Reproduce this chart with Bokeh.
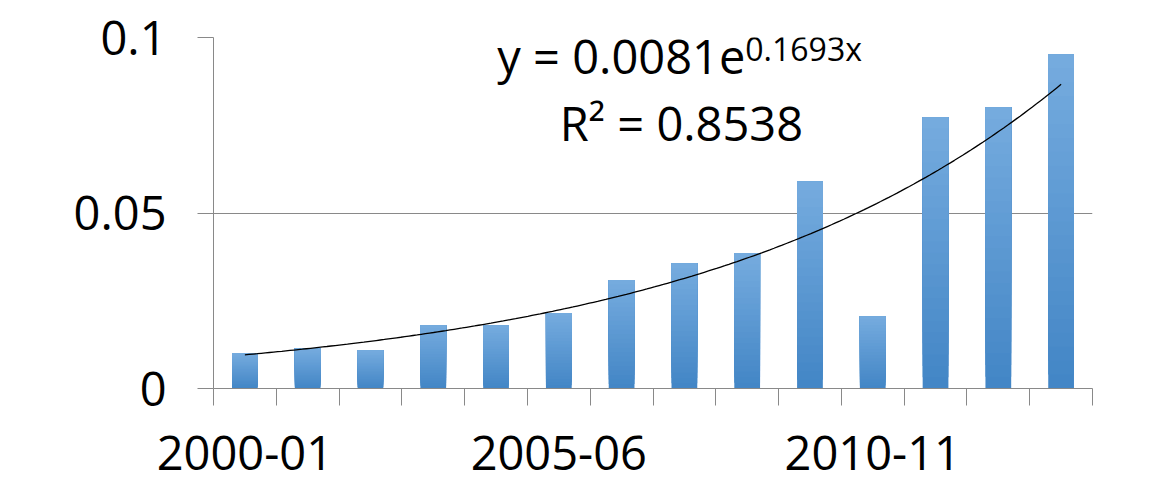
from bokeh.plotting import figure
from bokeh.models import Range1d, FixedTicker, Label, CustomJSTickFormatter
from bokeh.embed import file_html
from bokeh.resources import INLINE
import numpy as np

# ---- data ----
categories = ["2000-01", "2001-02", "2002-03", "2003-04", "2004-05", "2005-06", "2006-07",
              "2007-08", "2008-09", "2009-10", "2010-11", "2011-12", "2012-13", "2013-14"]
values = [0.0101, 0.0114, 0.0109, 0.0180, 0.0180, 0.0215, 0.0309,
          0.0357, 0.0386, 0.0590, 0.0206, 0.0773, 0.0801, 0.0952]
shown_labels = ["2000-01", "2005-06", "2010-11"]
y_ticks = [0, 0.05, 0.1]
trend_a = 0.0081      # exponential trendline y = a * e^(b x)
trend_b = 0.1693
r_squared = 0.8538

FONT = "Open Sans"
GRID = "#898989"

x_pos = list(range(1, len(categories) + 1))

p = figure(width=1152, height=491, output_backend="svg", toolbar_location=None,
           x_range=Range1d(0.5, len(categories) + 0.5), y_range=Range1d(0, 0.1),
           min_border_left=213, min_border_right=60, min_border_top=37, min_border_bottom=103)
p.outline_line_color = None
p.background_fill_color = "white"
p.border_fill_color = "white"

# bars with a vertical gradient (dark bottom -> light top), layered
n_layers = 24
c_bot = np.array([0x43, 0x86, 0xc6])
c_top = np.array([0x75, 0xab, 0xde])
vals = np.array(values)
for k in range(n_layers):
    t = k / (n_layers - 1)
    c = (c_bot + (c_top - c_bot) * t).round().astype(int)
    col = "#%02x%02x%02x" % tuple(c)
    p.vbar(x=x_pos, bottom=list(vals * k / n_layers), top=values, width=0.41,
           fill_color=col, line_color=None)

# exponential trendline
xs = np.linspace(1, len(categories), 200)
p.line(xs, trend_a * np.exp(trend_b * xs), line_color="black", line_width=1.3)

# y axis
p.yaxis.ticker = FixedTicker(ticks=y_ticks, minor_ticks=[])
p.yaxis.formatter = CustomJSTickFormatter(code="return String(Math.round(tick*100)/100);")
p.yaxis.major_label_text_font = FONT
p.yaxis.major_label_text_font_size = "47px"
p.yaxis.major_label_text_color = "black"
p.yaxis.major_label_standoff = 31
p.yaxis.major_tick_out = 16
p.yaxis.major_tick_in = 0
p.yaxis.minor_tick_line_color = None
p.yaxis.axis_line_color = GRID
p.yaxis.major_tick_line_color = GRID

# x axis: ticks at category boundaries, labels every fifth category
label_pos = [x_pos[categories.index(c)] for c in shown_labels]
boundaries = [x - 0.5 for x in x_pos] + [x_pos[-1] + 0.5]
p.xaxis.ticker = FixedTicker(ticks=label_pos, minor_ticks=boundaries)
p.xaxis.major_label_overrides = {x: c for x, c in zip(label_pos, shown_labels)}
p.xaxis.major_label_text_font = FONT
p.xaxis.major_label_text_font_size = "47px"
p.xaxis.major_label_text_color = "black"
p.xaxis.major_tick_out = 0
p.xaxis.major_tick_in = 0
p.xaxis.major_tick_line_color = None
p.xaxis.minor_tick_out = 17
p.xaxis.minor_tick_in = 0
p.xaxis.minor_tick_line_color = GRID
p.xaxis.axis_line_color = GRID
p.xaxis.major_label_standoff = 30

p.xgrid.grid_line_color = None
p.ygrid.ticker = FixedTicker(ticks=y_ticks)
p.ygrid.grid_line_color = GRID

# trendline equation
p.add_layout(Label(x=8.97, y=0.0946, text="y = %.4fe" % trend_a, text_align="right",
                   text_baseline="alphabetic", text_font=FONT, text_font_size="47px",
                   text_color="black"))
p.add_layout(Label(x=8.97, y=0.0970, text="%.4fx" % trend_b, text_align="left",
                   text_baseline="alphabetic", text_font=FONT, text_font_size="32px",
                   text_color="black"))
p.add_layout(Label(x=7.953, y=0.0756, text="R² = %.4f" % r_squared, text_align="center",
                   text_baseline="alphabetic", text_font=FONT, text_font_size="47px",
                   text_color="black"))

open("out.html", "w").write(file_html(p, INLINE))
